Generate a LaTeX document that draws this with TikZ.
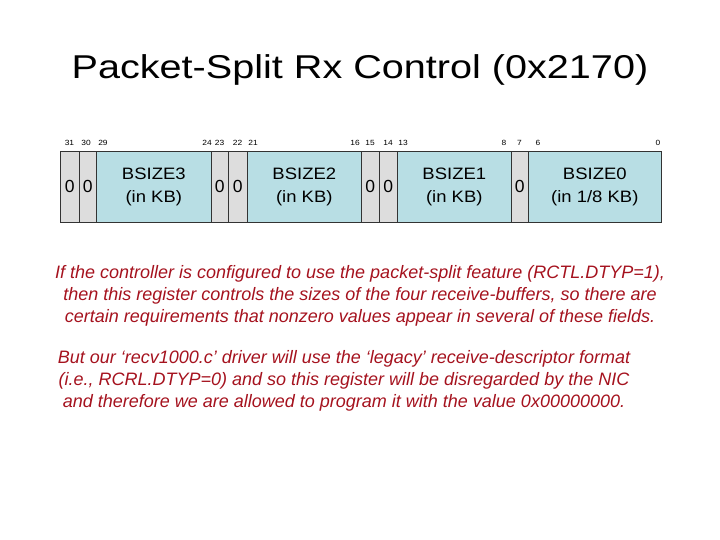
\documentclass[tikz,border=0pt]{standalone}
\usepackage{fontspec}
\setmainfont{Liberation Sans}
\newfontfamily\titlefont[FakeStretch=1.2]{Liberation Sans}
\newfontfamily\cellfont[FakeStretch=1.12]{Liberation Sans}
\newcommand\regzero{{\rmfamily\fontsize{17.5}{20}\selectfont 0}}
\definecolor{regGray}{RGB}{221,221,221}
\definecolor{regBlue}{RGB}{184,222,228}
\definecolor{noteRed}{RGB}{165,18,30}
\tikzset{
  regcell/.style={draw=black!80,line width=0.6pt,anchor=north west,inner sep=0pt,
    minimum height=71pt,align=center,font=\cellfont\fontsize{16.5}{23}\selectfont},
  bitlbl/.style={font=\cellfont\fontsize{7.5}{8}\selectfont,inner sep=0pt},
  note/.style={align=center,text=noteRed,font=\fontsize{18}{22}\selectfont\itshape}
}
\begin{document}
\begin{tikzpicture}[x=1pt,y=-1pt]
  \useasboundingbox (0,0) rectangle (720,540);
  \node (title) at (360,70) {\titlefont\fontsize{33}{36}\selectfont Packet-Split Rx Control (0x2170)};
  % register fields, left to right
  \foreach \nm/\l/\r/\col/\txt in {b31/60/79/regGray/\regzero, b30/79/96/regGray/\regzero,
      bsize3/96/211/regBlue/{BSIZE3\\(in KB)}, b23/211/228/regGray/\regzero, b22/228/247/regGray/\regzero,
      bsize2/247/361/regBlue/{BSIZE2\\(in KB)}, b15/361/379/regGray/\regzero, b14/379/397/regGray/\regzero,
      bsize1/397/511/regBlue/{BSIZE1\\(in KB)}, b7/511/528/regGray/\regzero,
      bsize0/528/661/regBlue/{BSIZE0\\(in 1/8 KB)}}
    \node[regcell,fill=\col,minimum width={\r-\l}] (\nm) at (\l,151) {\txt};
  % bit numbers
  \foreach \x/\b in {69.5/31,86/30,103/29,207/24,219.5/23,237.5/22,253/21,355/16,
      370/15,388/14,403/13,504/8,519.5/7,538/6,658/0}
    \node[bitlbl] at (\x,143) {\b};
  \node[note] (para1) at (360,296) {If the controller is configured to use the packet-split feature (RCTL.DTYP=1),\\
    then this register controls the sizes of the four receive-buffers, so there are\\
    certain requirements that nonzero values appear in several of these fields.};
  \node[note] (para2) at (344,381) {But our `recv1000.c' driver will use the `legacy' receive-descriptor format\\
    (i.e., RCRL.DTYP=0) and so this register will be disregarded by the NIC\\
    and therefore we are allowed to program it with the value 0x00000000.};
\end{tikzpicture}
\end{document}
